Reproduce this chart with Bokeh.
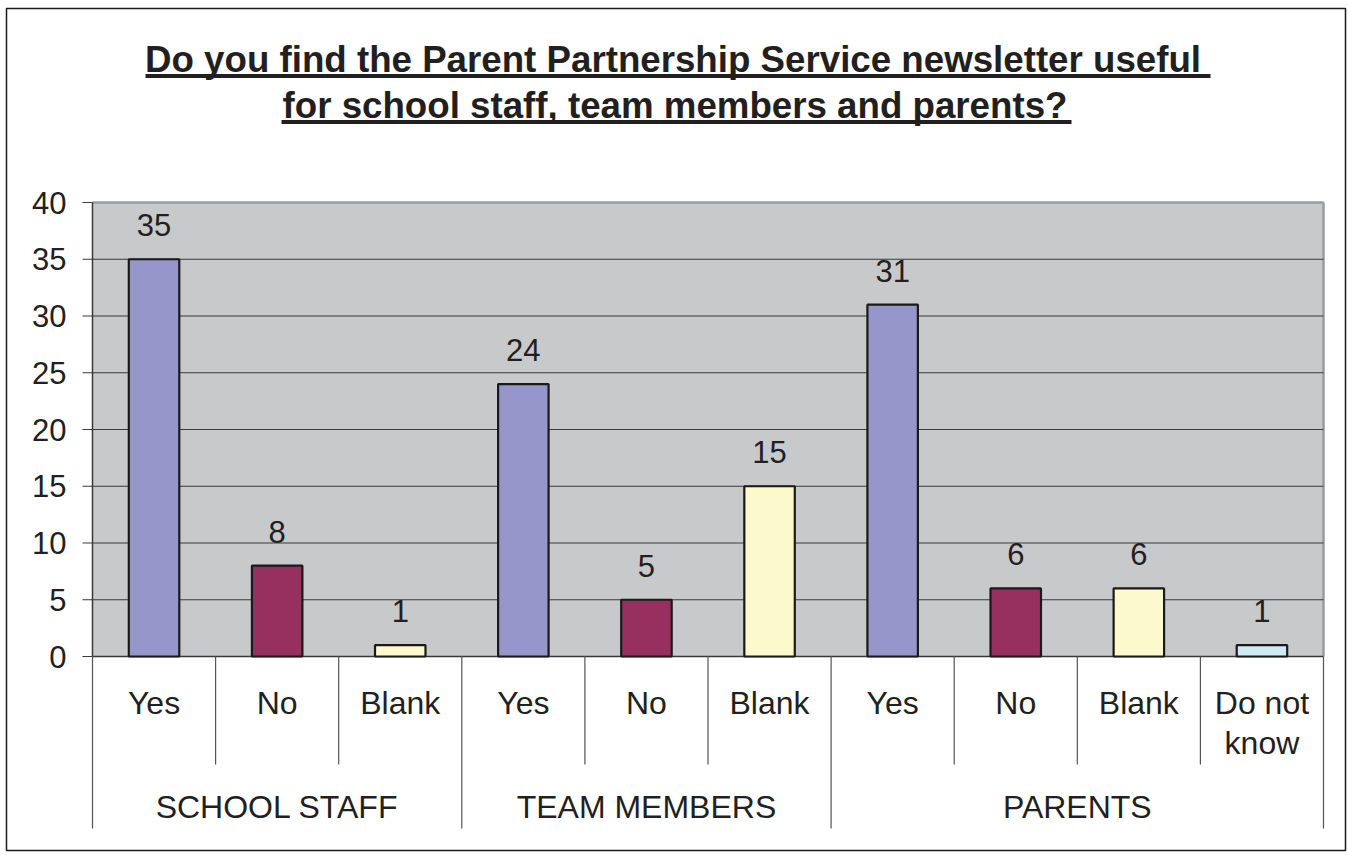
from bokeh.plotting import figure
from bokeh.models import Range1d
from bokeh.core.properties import value
from bokeh.embed import file_html
from bokeh.resources import INLINE

# ---- data ----
title_lines = ["Do you find the Parent Partnership Service newsletter useful",
               "for school staff, team members and parents?"]
groups = ["SCHOOL STAFF", "TEAM MEMBERS", "PARENTS"]
group_sizes = [3, 3, 4]
answers = ["Yes", "No", "Blank", "Yes", "No", "Blank", "Yes", "No", "Blank", "Do not\nknow"]
counts = [35, 8, 1, 24, 5, 15, 31, 6, 6, 1]
y_ticks = [0, 5, 10, 15, 20, 25, 30, 35, 40]

answer_colors = {"Yes": "#9696CA", "No": "#98305F", "Blank": "#FCF9CC", "Do not\nknow": "#CEEBF4"}

# ---- layout (page pixels) ----
W, H = 1347, 852
FL, FR, FT, FB = 6, 1345, 8, 850          # outer frame (border box)
PL, PR, PT, PB = 92, 1323, 202, 656       # plot area edges
n = len(answers)
slot = (PR - PL) / n
ymax = 40
ppu = (PB - PT) / ymax

def px2x(px):
    return (px - PL) / slot

def px2y(py):
    return (PB - py) / ppu

FONT = value("Liberation Sans")
TXT = "#231F20"
NUM_SIZE = "31px"
CAT_SIZE = "32px"

p = figure(width=W, height=H, output_backend="svg", toolbar_location=None,
           x_range=Range1d(px2x(FL), px2x(FR)), y_range=Range1d(px2y(FB), px2y(FT)),
           x_axis_location=None, y_axis_location=None,
           min_border_left=FL, min_border_top=FT, min_border_right=W - FR, min_border_bottom=H - FB,
           background_fill_color="white", border_fill_color="white")
p.grid.visible = False
p.outline_line_color = "#1a1a1a"
p.outline_line_width = 1.5

# plot-area background
p.quad(left=0, right=n, bottom=0, top=ymax, fill_color="#C8C9CB", line_color=None)
# top & right gray border
p.segment(x0=[0, n], y0=[ymax, ymax], x1=[n, n], y1=[ymax, 0], line_color="#9A9B9D", line_width=2.5)

# gridlines
grid_vals = [v for v in y_ticks if 0 < v < ymax]
p.segment(x0=[0] * len(grid_vals), x1=[n] * len(grid_vals), y0=grid_vals, y1=grid_vals,
          line_color="#3a3a3a", line_width=1.2)

# y axis line, ticks, labels
p.segment(x0=[0], x1=[0], y0=[0], y1=[ymax], line_color="#3a3a3a", line_width=1.5)
p.segment(x0=[px2x(PL - 10)] * len(y_ticks), x1=[0] * len(y_ticks), y0=y_ticks, y1=y_ticks,
          line_color="#3a3a3a", line_width=1.2)
p.text(x=[px2x(66)] * len(y_ticks), y=y_ticks, text=[str(v) for v in y_ticks],
       text_align="right", text_baseline="middle", text_font=FONT, text_font_size=NUM_SIZE,
       text_color=TXT)

# x axis line
p.segment(x0=[0], x1=[n], y0=[0], y1=[0], line_color="#3a3a3a", line_width=1.5)

# bars
centers = [i + 0.5 for i in range(n)]
p.vbar(x=centers, top=counts, width=0.41, bottom=0,
       fill_color=[answer_colors[a] for a in answers], line_color="#1a1a1a", line_width=2.2)

# value labels
p.text(x=centers, y=[c + 34 / ppu for c in counts], text=[str(c) for c in counts],
       text_align="center", text_baseline="middle", text_font=FONT, text_font_size=NUM_SIZE,
       text_color=TXT)

# category separators
boundaries = [0]
for s in group_sizes:
    boundaries.append(boundaries[-1] + s)
inner = [k for k in range(n + 1) if k not in boundaries]
p.segment(x0=inner, x1=inner, y0=[0] * len(inner), y1=[px2y(764)] * len(inner),
          line_color="#555555", line_width=1.2)
p.segment(x0=boundaries, x1=boundaries, y0=[0] * len(boundaries), y1=[px2y(828)] * len(boundaries),
          line_color="#555555", line_width=1.2)

# category labels (possibly multi-line)
lx, ly, lt = [], [], []
for i, a in enumerate(answers):
    for j, line in enumerate(a.split("\n")):
        lx.append(i + 0.5)
        ly.append(px2y(702 + 40 * j))
        lt.append(line)
p.text(x=lx, y=ly, text=lt, text_align="center", text_baseline="middle", text_font=FONT,
       text_font_size=CAT_SIZE, text_color=TXT)

# group labels
gx = [(boundaries[g] + boundaries[g + 1]) / 2 for g in range(len(groups))]
p.text(x=gx, y=[px2y(806)] * len(groups), text=groups, text_align="center", text_baseline="middle",
       text_font=FONT, text_font_size=CAT_SIZE, text_color=TXT)

# title (bold, underlined)
p.text(x=[px2x(672.5), px2x(674.5)], y=[px2y(59), px2y(105)], text=title_lines, text_align="center",
       text_baseline="middle", text_font=FONT, text_font_style="bold", text_font_size="36.7px",
       text_color=TXT)
p.segment(x0=[px2x(145), px2x(281)], x1=[px2x(1210), px2x(1071)],
          y0=[px2y(75.5), px2y(121.5)], y1=[px2y(75.5), px2y(121.5)], line_color=TXT, line_width=4)

open("out.html", "w").write(file_html(p, INLINE))
